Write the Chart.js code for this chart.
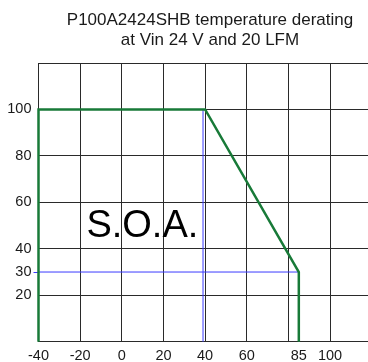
<!DOCTYPE html>
<html>
<head>
<meta charset="utf-8">
<script src="https://cdn.jsdelivr.net/npm/chart.js@4"></script>
<style>
  html, body { margin: 0; padding: 0; background: #fff; }
  #frame { width: 368px; height: 362px; overflow: hidden; }
  #wrap { width: 380px; height: 362px; }
</style>
</head>
<body>
<div id="frame"><div id="wrap"><canvas id="chart"></canvas></div></div>
<script>
// derating curve (ambient temperature in °C vs. output load in %)
const tempC = [-40, -40, 40, 85, 85]
const loadPct = [0, 100, 100, 30, 0]
// blue guide lines
const kneeTemp = [39, 39]
const kneeLoad = [0, 100]
const markTemp = [-40, 85]
const markLoad = [30, 30]
// axis ticks
const xTicks = [-40, -20, 0, 20, 40, 60, 80, 85, 100, 120]
const xLabelsHidden = [80, 120]
const yTicks = [0, 20, 30, 40, 60, 80, 100, 120]
const yLabelsHidden = [0, 120]

const titleLines = ['P100A2424SHB temperature derating', 'at Vin 24 V and 20 LFM']
const areaLabel = 'S.O.A.'

const green = '#187a38'
const blue = '#3a3aff'
const gridColor = '#2a2a2a'
const font = 'Arial, "Liberation Sans", sans-serif'

const toPoints = (xs, ys) => xs.map((x, i) => ({ x: x, y: ys[i] }))

const textPlugin = {
  id: 'textPlugin',
  afterDatasetsDraw(chart) {
    const { ctx, scales } = chart
    ctx.save()
    ctx.fillStyle = '#1a1a1a'
    ctx.textAlign = 'center'
    ctx.textBaseline = 'alphabetic'
    ctx.font = `17px ${font}`
    ctx.fillText(titleLines[0], 210, 25)
    ctx.fillText(titleLines[1], 210, 45)

    ctx.fillStyle = '#000'
    ctx.textAlign = 'left'
    ctx.font = `38px ${font}`
    ctx.fillText(areaLabel, scales.x.getPixelForValue(-17), scales.y.getPixelForValue(45))
    ctx.restore()
  }
}

new Chart(document.getElementById('chart'), {
  type: 'scatter',
  data: {
    datasets: [
      {
        data: toPoints(kneeTemp, kneeLoad),
        showLine: true,
        borderColor: blue,
        borderWidth: 1,
        pointRadius: 0,
        clip: false,
        order: 2
      },
      {
        data: toPoints(markTemp, markLoad),
        showLine: true,
        borderColor: blue,
        borderWidth: 1,
        pointRadius: 0,
        clip: false,
        order: 2
      },
      {
        data: toPoints(tempC, loadPct),
        showLine: true,
        borderColor: green,
        borderWidth: 2.5,
        pointRadius: 0,
        clip: false,
        order: 1
      }
    ]
  },
  options: {
    responsive: true,
    maintainAspectRatio: false,
    animation: false,
    events: [],
    layout: { padding: { top: 63, right: 8.3, bottom: 0, left: 0 } },
    plugins: {
      legend: { display: false },
      tooltip: { enabled: false },
      title: { display: false }
    },
    scales: {
      x: {
        type: 'linear',
        min: -40,
        max: 120,
        afterBuildTicks: (scale) => { scale.ticks = xTicks.map(v => ({ value: v })) },
        afterFit: (scale) => { scale.height = 20.3 },
        border: { display: true, color: gridColor, width: 1 },
        grid: {
          color: (c) => c.tick && c.tick.value === 85 ? 'rgba(0,0,0,0)' : gridColor,
          lineWidth: 1,
          tickLength: 4,
          tickColor: 'rgba(0,0,0,0)'
        },
        ticks: {
          autoSkip: false,
          maxRotation: 0,
          padding: 2,
          color: '#1a1a1a',
          font: { family: font, size: 14.5 },
          callback: (v) => xLabelsHidden.includes(v) ? '' : String(v)
        }
      },
      y: {
        type: 'linear',
        min: 0,
        max: 120,
        afterBuildTicks: (scale) => { scale.ticks = yTicks.map(v => ({ value: v })) },
        afterFit: (scale) => { scale.width = 38.5 },
        border: { display: true, color: gridColor, width: 1 },
        grid: {
          color: (c) => c.tick && c.tick.value === 30 ? 'rgba(0,0,0,0)' : gridColor,
          lineWidth: 1,
          tickLength: 5,
          tickColor: (c) => c.tick && c.tick.value === 30 ? blue : 'rgba(0,0,0,0)'
        },
        ticks: {
          autoSkip: false,
          padding: 2,
          color: '#1a1a1a',
          font: { family: font, size: 14.5 },
          callback: (v) => yLabelsHidden.includes(v) ? '' : String(v)
        }
      }
    }
  },
  plugins: [textPlugin]
})
</script>
</body>
</html>
